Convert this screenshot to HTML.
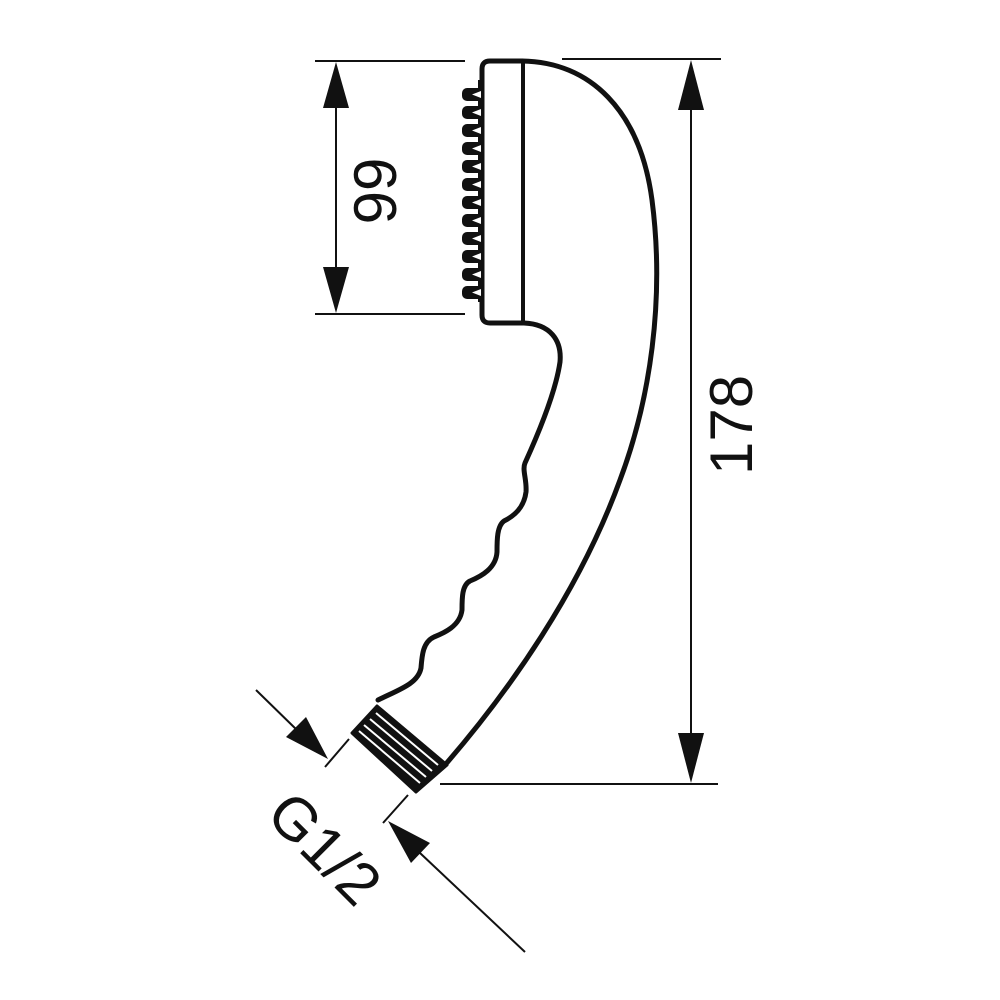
<!DOCTYPE html>
<html><head><meta charset="utf-8"><style>html,body{margin:0;padding:0;background:#fff}svg{display:block}</style></head>
<body>
<svg width="1000" height="1000" viewBox="0 0 1000 1000" xmlns="http://www.w3.org/2000/svg">
<g fill="none" stroke="#111" stroke-linecap="round" stroke-linejoin="round">
<!-- head -->
<path d="M522 61 L490 61 Q482 61 482 69 L482 315 Q482 323 490 323 L524 323" stroke-width="5"/>
<line x1="523" y1="61" x2="523" y2="323" stroke-width="4"/>
<!-- outer body -->
<path d="M522 61 C590 62 640 110 652 200 C665 300 650 400 620 480 C580 590 510 690 445 765" stroke-width="5"/>
<!-- inner profile -->
<path d="M524 323 C550 324 562 340 560 362 C556 390 540 430 525 463 C522 470 527 480 526 492 C524 508 514 516 504 521 C497 526 497 540 497 552 C496 568 482 576 470 581 C462 585 462 598 462 610 C460 626 444 633 434 637 C423 642 422 655 421 668 C418 684 398 690 378 700" stroke-width="5"/>
<!-- dimension lines -->
<g stroke-width="2" stroke-linecap="butt">
<line x1="315" y1="61" x2="465" y2="61"/>
<line x1="315" y1="314" x2="465" y2="314"/>
<line x1="336" y1="100" x2="336" y2="280"/>
<line x1="562" y1="59" x2="721" y2="59"/>
<line x1="440" y1="784" x2="718" y2="784"/>
<line x1="691" y1="100" x2="691" y2="745"/>
<line x1="325" y1="767" x2="349" y2="739"/>
<line x1="383" y1="823" x2="408" y2="795"/>
<line x1="256" y1="690" x2="300" y2="733"/>
<line x1="525" y1="952" x2="420" y2="853"/>
</g>
</g>
<!-- arrowheads -->
<g fill="#111">
<polygon points="336,62 323,108 349,108"/>
<polygon points="336,313 323,267 349,267"/>
<polygon points="691,60 678,110 704,110"/>
<polygon points="691,783 678,733 704,733"/>
<polygon points="328,759 286,737 306,717"/>
<polygon points="388,821 430,843 411,863"/>
</g>
<!-- nozzles -->
<g fill="#111">
<rect x="478" y="80" width="6" height="222"/>
<g id="t">
<rect x="462" y="88" width="21" height="13" rx="5"/>
<polygon points="472,94.5 481,91 481,98" fill="#fff"/>
</g>
<use href="#t" y="18"/><use href="#t" y="36"/><use href="#t" y="54"/><use href="#t" y="72"/><use href="#t" y="90"/><use href="#t" y="108"/><use href="#t" y="126"/><use href="#t" y="144"/><use href="#t" y="162"/><use href="#t" y="180"/><use href="#t" y="198"/>
</g>
<!-- thread -->
<polygon points="352,733 377,706 447,765 416,792" fill="#111" stroke="#111" stroke-width="3" stroke-linejoin="round"/>
<g stroke="#fff" stroke-width="2">
<line x1="376" y1="713" x2="438" y2="765"/>
<line x1="370" y1="719" x2="432" y2="771"/>
<line x1="364" y1="725" x2="426" y2="777"/>
<line x1="359" y1="731" x2="420" y2="783"/>
</g>
<!-- labels -->
<g font-family="Liberation Sans, sans-serif" font-size="60" fill="#111" text-anchor="middle">
<text transform="translate(396,191) rotate(-90)">99</text>
<text transform="translate(752,425) rotate(-90)">178</text>
<text transform="translate(310,863) rotate(45)">G1/2</text>
</g>
</svg>
</body></html>
